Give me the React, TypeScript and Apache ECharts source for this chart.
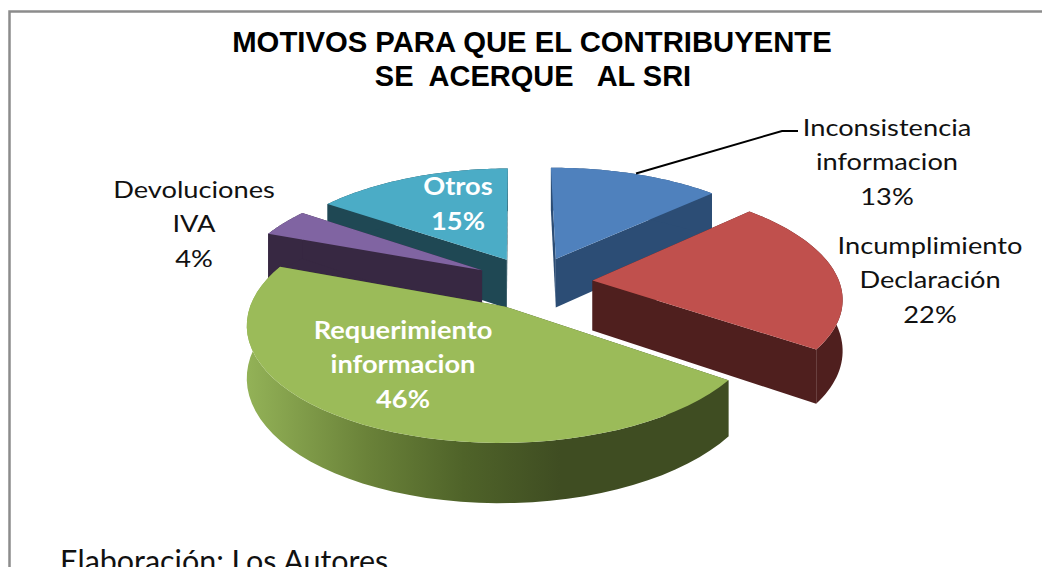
import React, { useEffect, useRef } from "react";
import * as echarts from "echarts";

const categories = ["Inconsistencia\ninformacion", "Incumplimiento\nDeclaración", "Requerimiento\ninformacion", "Devoluciones\nIVA", "Otros"];
const values = [13, 22, 46, 4, 15];
const topColors = ["#4f81bd", "#c0504d", "#9bbb59", "#8064a2", "#4bacc6"];
const wallColors = ["#2c4d75", "#4f1f1e", "#3f4d22", "#372842", "#1f4854"];
const drawOrder = [1, 3, 4, 2, 0];
const titleLines = ["MOTIVOS PARA QUE EL CONTRIBUYENTE", "SE  ACERQUE   AL SRI"];
const sourceText = "Elaboración: Los Autores";

const LABEL_FONT = "Lato, 'Open Sans', sans-serif";
const labelLayout = [
  { x: 887, y: 161, fill: "#111", weight: "normal" },
  { x: 930, y: 279, fill: "#111", weight: "normal" },
  { x: 403, y: 364, fill: "#fff", weight: "bold" },
  { x: 194, y: 223, fill: "#111", weight: "normal" },
  { x: 458, y: 203, fill: "#fff", weight: "bold" },
];

// projection of the tilted pie
const CX = 533.5, CY = 282.5, R = 247, RK = 110, P = 0.14, EXPLODE = 0.24, DEPTH = 50, START = (-0.6 * Math.PI) / 180;

function project(U: number, V: number) {
  const s = 1 / (1 - P * V);
  return { x: CX + R * U * s, y: CY + RK * V * s, s };
}

function renderSlice(params: any, api: any) {
  const i = params.dataIndex;
  const total = values.reduce((a, b) => a + b, 0);
  let before = 0;
  for (let k = 0; k < i; k++) before += values[k];
  const a0 = START + (before / total) * Math.PI * 2;
  const a1 = START + ((before + api.value(0)) / total) * Math.PI * 2;
  const mid = (a0 + a1) / 2;
  const ex = Math.sin(mid) * EXPLODE;
  const ey = -Math.cos(mid) * EXPLODE;
  const apex = project(ex, ey);
  const arc: { x: number; y: number; s: number }[] = [];
  const steps = 48;
  for (let k = 0; k <= steps; k++) {
    const a = a0 + ((a1 - a0) * k) / steps;
    arc.push(project(ex + Math.sin(a), ey - Math.cos(a)));
  }
  const low = (p: { x: number; y: number; s: number }) => [p.x, p.y + DEPTH * p.s];
  const up = (p: { x: number; y: number }) => [p.x, p.y];
  const wall = wallColors[i];
  const z = drawOrder[i] * 10;
  const first = arc[0];
  const last = arc[arc.length - 1];
  const arcFill =
    i === 2
      ? new echarts.graphic.LinearGradient(1, 0, 0, 0, [
          { offset: 0, color: "#3f4d22" },
          { offset: 0.35, color: "#3f4d22" },
          { offset: 0.55, color: "#4f6329" },
          { offset: 0.75, color: "#6a8239" },
          { offset: 1, color: "#93b257" },
        ])
      : wall;
  return {
    type: "group",
    children: [
      { type: "polygon", z2: z, shape: { points: [up(apex), up(first), low(first), low(apex)] }, style: { fill: wall } },
      { type: "polygon", z2: z + 1, shape: { points: [up(apex), up(last), low(last), low(apex)] }, style: { fill: wall } },
      { type: "polygon", z2: z + 2, shape: { points: [...arc.map(up), ...arc.slice().reverse().map(low)] }, style: { fill: arcFill } },
      { type: "polygon", z2: z + 3, shape: { points: [up(apex), ...arc.map(up)] }, style: { fill: topColors[i] } },
    ],
  };
}

export default function App() {
  const ref = useRef<HTMLDivElement>(null);
  useEffect(() => {
    const chart = echarts.init(ref.current!, null, { renderer: "svg" });
    const labels = categories.map((name, i) => {
      const l = labelLayout[i];
      return {
        type: "text",
        z: 20,
        x: l.x,
        y: l.y,
        scaleX: 1.135,
        style: {
          text: `${name}\n${values[i]}%`,
          font: `${l.weight} 24px ${LABEL_FONT}`,
          lineHeight: 34.5,
          fill: l.fill,
          textAlign: "center",
          textVerticalAlign: "middle",
        },
      };
    });
    chart.setOption({
      animation: false,
      backgroundColor: "#ffffff",
      series: [
        {
          type: "custom",
          coordinateSystem: "none",
          silent: true,
          z: 5,
          data: values.map((v) => [v]),
          renderItem: renderSlice,
        },
      ],
      graphic: [
        {
          type: "polyline",
          z: 1,
          shape: { points: [[9.5, 580], [9.5, 11.5], [1060, 11.5]] },
          style: { stroke: "#8c8c8c", lineWidth: 2.5, fill: "none" },
        },
        {
          type: "polyline",
          z: 20,
          shape: { points: [[636, 173.5], [782, 131], [798, 131]] },
          style: { stroke: "#000", lineWidth: 2, fill: "none" },
        },
        {
          type: "text",
          z: 20,
          x: 532,
          y: 42,
          scaleX: 1.01,
          style: { text: titleLines[0], font: "bold 29px 'Liberation Sans', Arial, sans-serif", fill: "#000", textAlign: "center", textVerticalAlign: "middle" },
        },
        {
          type: "text",
          z: 20,
          x: 533,
          y: 76,
          style: { text: titleLines[1], font: "bold 29px 'Liberation Sans', Arial, sans-serif", fill: "#000", textAlign: "center", textVerticalAlign: "middle" },
        },
        ...labels,
        {
          type: "text",
          z: 20,
          x: 60,
          y: 560,
          scaleX: 1.015,
          style: { text: sourceText, font: `30px ${LABEL_FONT}`, fill: "#111", textAlign: "left", textVerticalAlign: "middle" },
        },
      ],
    });
    return () => chart.dispose();
  }, []);
  return <div ref={ref} style={{ position: "fixed", left: 0, top: 0, width: 1042, height: 567 }} />;
}
